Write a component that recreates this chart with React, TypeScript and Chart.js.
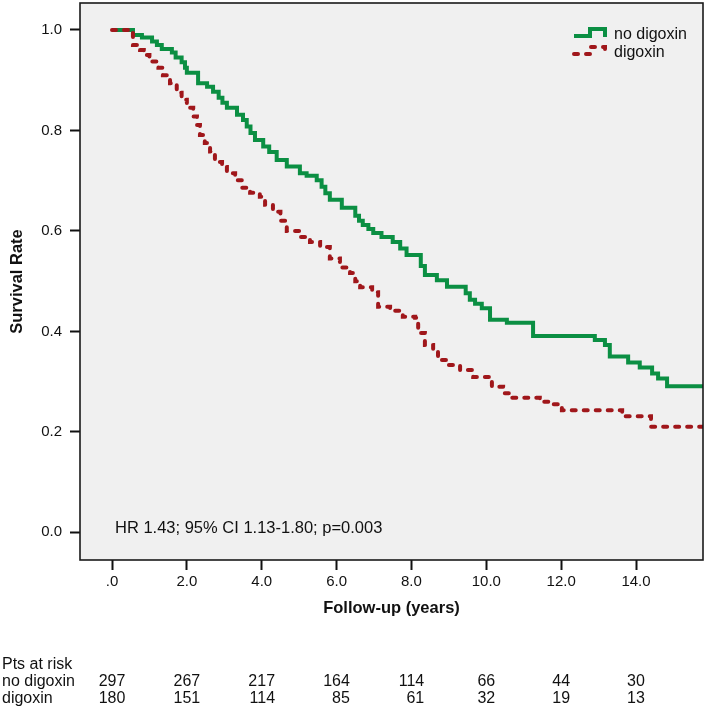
import React, { useEffect, useRef } from "react";
import { Chart, registerables } from "chart.js";

Chart.register(...registerables);

const seriesNames = ["no digoxin", "digoxin"];
const seriesColors = ["#0b8f43", "#a0171b"];

const noDigoxinTimes = [
  0, 0.56, 0.8, 1.07, 1.2, 1.33, 1.6, 1.7, 1.86, 1.95, 2.0, 2.3, 2.54, 2.7, 2.85, 2.95,
  3.07, 3.34, 3.5, 3.6, 3.7, 3.82, 4.04, 4.2, 4.4, 4.67, 5.02, 5.2, 5.47, 5.6, 5.7, 5.82,
  6.14, 6.5, 6.6, 6.7, 6.85, 6.98, 7.2, 7.5, 7.7, 7.87, 8.25, 8.36, 8.68, 8.95, 9.45, 9.56,
  9.7, 9.88, 10.1, 10.55, 11.25, 12.9, 13.17, 13.3, 13.79, 14.1, 14.43, 14.59, 14.83, 15.79,
];
const noDigoxinSurvival = [
  1.0, 0.99, 0.985, 0.977, 0.97, 0.962, 0.955, 0.945, 0.936, 0.925, 0.915, 0.894, 0.887, 0.877, 0.865, 0.855,
  0.845, 0.831, 0.821, 0.808, 0.795, 0.781, 0.768, 0.757, 0.741, 0.728, 0.715, 0.71, 0.701, 0.688, 0.675, 0.662,
  0.646, 0.63, 0.62, 0.612, 0.604, 0.596, 0.588, 0.578, 0.565, 0.552, 0.53, 0.512, 0.502, 0.489, 0.476, 0.463,
  0.455, 0.446, 0.423, 0.417, 0.391, 0.383, 0.373, 0.35, 0.338, 0.328, 0.316, 0.306, 0.291, 0.291,
];

const digoxinTimes = [
  0, 0.56, 0.75, 0.85, 1.0, 1.24, 1.36, 1.55, 1.73, 1.86, 2.0, 2.17, 2.27, 2.35, 2.48, 2.62,
  2.75, 2.94, 3.07, 3.29, 3.47, 3.69, 3.95, 4.09, 4.3, 4.5, 4.67, 5.02, 5.29, 5.56, 5.82, 6.09,
  6.36, 6.5, 6.63, 6.95, 7.11, 7.43, 7.77, 8.1, 8.18, 8.36, 8.58, 8.71, 8.98, 9.3, 9.65, 10.15,
  10.45, 10.69, 11.43, 11.78, 12.02, 13.63, 14.4, 15.79,
];
const digoxinSurvival = [
  1.0, 0.97, 0.96, 0.95, 0.937, 0.925, 0.91, 0.894, 0.875, 0.861, 0.845, 0.828, 0.811, 0.791, 0.775, 0.758,
  0.737, 0.727, 0.715, 0.701, 0.686, 0.676, 0.668, 0.652, 0.638, 0.62, 0.6, 0.588, 0.578, 0.568, 0.545, 0.527,
  0.516, 0.5, 0.488, 0.478, 0.449, 0.441, 0.429, 0.427, 0.397, 0.373, 0.363, 0.343, 0.333, 0.323, 0.309, 0.29,
  0.277, 0.268, 0.26, 0.255, 0.243, 0.231, 0.21, 0.21,
];

const xTickValues = [0, 2, 4, 6, 8, 10, 12, 14];
const xTickLabels = [".0", "2.0", "4.0", "6.0", "8.0", "10.0", "12.0", "14.0"];
const yTickValues = [0, 0.2, 0.4, 0.6, 0.8, 1.0];
const yTickLabels = ["0.0", "0.2", "0.4", "0.6", "0.8", "1.0"];

const riskTitle = "Pts at risk";
const riskTimes = [0, 2, 4, 6, 8, 10, 12, 14];
const riskNoDigoxin = [297, 267, 217, 164, 114, 66, 44, 30];
const riskDigoxin = [180, 151, 114, 85, 61, 32, 19, 13];

const annotationText = "HR 1.43; 95% CI 1.13-1.80; p=0.003";
const xTitle = "Follow-up (years)";
const yTitle = "Survival Rate";

const FONT = '"Liberation Sans", Arial, Helvetica, sans-serif';

const decorPlugin = {
  id: "kmDecor",
  beforeDraw(chart: any) {
    const { ctx, chartArea: a } = chart;
    ctx.save();
    ctx.fillStyle = "#ffffff";
    ctx.fillRect(0, 0, chart.width, chart.height);
    ctx.fillStyle = "#f0f0f0";
    ctx.fillRect(a.left, a.top, a.right - a.left, a.bottom - a.top);
    ctx.restore();
  },
  afterDraw(chart: any) {
    const { ctx, chartArea: a } = chart;
    const xs = chart.scales.x;
    ctx.save();
    // frame
    ctx.strokeStyle = "#1a1a1a";
    ctx.lineWidth = 1.6;
    ctx.strokeRect(a.left, a.top, a.right - a.left, a.bottom - a.top);

    ctx.fillStyle = "#111";
    ctx.textBaseline = "middle";

    // annotation
    ctx.font = `16.5px ${FONT}`;
    ctx.textAlign = "left";
    ctx.fillText(annotationText, a.left + 35, a.bottom - 32);

    // legend
    ctx.font = `16px ${FONT}`;
    const lx = a.right - 129;
    const rows = [a.top + 32, a.top + 50];
    chart.data.datasets.forEach((ds: any, i: number) => {
      const y = rows[i];
      ctx.save();
      ctx.strokeStyle = ds.borderColor;
      ctx.lineWidth = 4;
      ctx.lineCap = i === 0 ? "butt" : "round";
      ctx.setLineDash(i === 0 ? [] : [4, 8]);
      ctx.beginPath();
      ctx.moveTo(lx, y + 1);
      ctx.lineTo(lx + 16, y + 1);
      ctx.lineTo(lx + 16, y - 6);
      ctx.lineTo(lx + 31, y - 6);
      ctx.lineTo(lx + 31, y + 2);
      ctx.stroke();
      ctx.restore();
      ctx.fillText(ds.label, lx + 40, y);
    });

    // risk table
    ctx.font = `16px ${FONT}`;
    ctx.textAlign = "left";
    ctx.fillText(riskTitle, 2, 665);
    ctx.fillText(seriesNames[0], 2, 682);
    ctx.fillText(seriesNames[1], 2, 699);
    riskTimes.forEach((t, i) => {
      const px = xs.getPixelForValue(t);
      const top = String(riskNoDigoxin[i]);
      const w = ctx.measureText(top).width;
      const right = px + w / 2;
      ctx.textAlign = "right";
      ctx.fillText(top, right, 682);
      ctx.fillText(String(riskDigoxin[i]), right, 699);
    });
    ctx.restore();
  },
};

export default function App() {
  const canvasRef = useRef<HTMLCanvasElement | null>(null);

  useEffect(() => {
    const canvas = canvasRef.current;
    if (!canvas) return;
    const toPoints = (ts: number[], ss: number[]) => ts.map((t, i) => ({ x: t, y: ss[i] }));
    const chart = new Chart(canvas, {
      type: "line",
      data: {
        datasets: [
          {
            label: seriesNames[0],
            data: toPoints(noDigoxinTimes, noDigoxinSurvival),
            borderColor: seriesColors[0],
            backgroundColor: seriesColors[0],
            borderWidth: 4,
            stepped: true,
            pointRadius: 0,
            fill: false,
            order: 1,
          },
          {
            label: seriesNames[1],
            data: toPoints(digoxinTimes, digoxinSurvival),
            borderColor: seriesColors[1],
            backgroundColor: seriesColors[1],
            borderWidth: 4,
            borderDash: [4, 8],
            borderCapStyle: "round",
            stepped: true,
            pointRadius: 0,
            fill: false,
            order: 0,
          },
        ],
      },
      options: {
        animation: false,
        responsive: false,
        maintainAspectRatio: false,
        layout: { padding: { top: 3, right: 6, left: 0, bottom: 0 } },
        plugins: {
          legend: { display: false },
          tooltip: { enabled: false },
        },
        scales: {
          x: {
            type: "linear",
            min: -0.855,
            max: 15.79,
            afterBuildTicks: (s: any) => {
              s.ticks = xTickValues.map((v) => ({ value: v }));
            },
            afterFit: (s: any) => {
              s.height = 149;
              s.paddingLeft = 0;
              s.paddingRight = 0;
            },
            ticks: {
              autoSkip: false,
              maxRotation: 0,
              padding: 3,
              color: "#111",
              font: { family: FONT, size: 15 },
              callback: (v: any) => {
                const i = xTickValues.indexOf(Number(v));
                return i >= 0 ? xTickLabels[i] : "";
              },
            },
            grid: {
              display: true,
              drawOnChartArea: false,
              drawTicks: true,
              tickLength: 10,
              tickWidth: 2,
              tickColor: "#111",
            },
            border: { display: false },
            title: {
              display: true,
              text: xTitle,
              color: "#111",
              font: { family: FONT, size: 16.5, weight: "bold" },
              padding: { top: 0, bottom: 91 },
            },
          },
          y: {
            type: "linear",
            min: -0.0551,
            max: 1.0537,
            afterBuildTicks: (s: any) => {
              s.ticks = yTickValues.map((v) => ({ value: v }));
            },
            afterFit: (s: any) => {
              s.width = 80;
              s.paddingTop = 0;
              s.paddingBottom = 0;
            },
            ticks: {
              padding: 8,
              color: "#111",
              font: { family: FONT, size: 15 },
              callback: (v: any) => {
                const i = yTickValues.findIndex((t) => Math.abs(t - Number(v)) < 1e-9);
                return i >= 0 ? yTickLabels[i] : "";
              },
            },
            grid: {
              display: true,
              drawOnChartArea: false,
              drawTicks: true,
              tickLength: 10,
              tickWidth: 2,
              tickColor: "#111",
            },
            border: { display: false },
            title: {
              display: true,
              text: yTitle,
              color: "#111",
              font: { family: FONT, size: 16.5, weight: "bold" },
              padding: { top: 8, bottom: 0 },
            },
          },
        },
      },
      plugins: [decorPlugin],
    } as any);
    return () => chart.destroy();
  }, []);

  return (
    <div style={{ position: "fixed", left: 0, top: 0, width: 709, height: 709, background: "#fff" }}>
      <canvas ref={canvasRef} width={709} height={709} style={{ width: 709, height: 709, display: "block" }} />
    </div>
  );
}
